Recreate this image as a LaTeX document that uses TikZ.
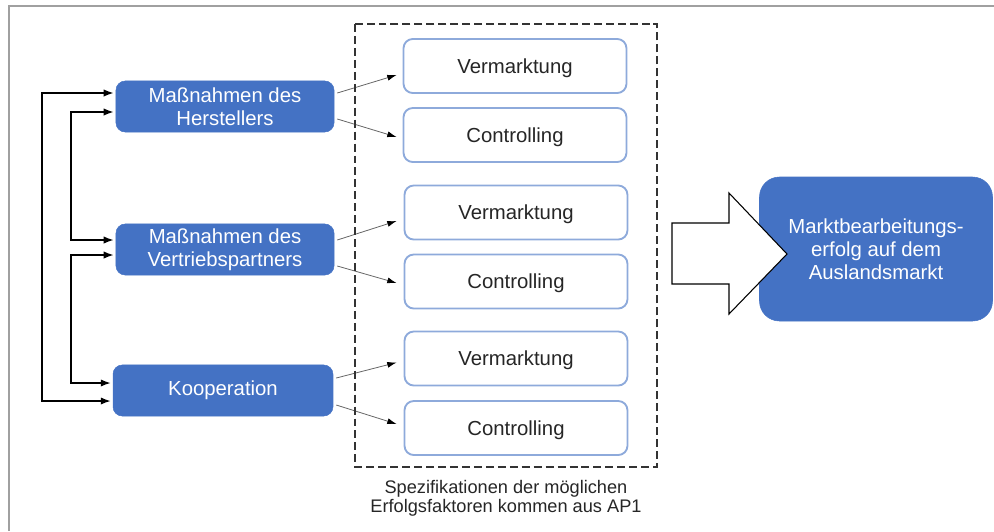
\documentclass[tikz,border=0pt]{standalone}
\usepackage{fontspec}
\setmainfont{Liberation Sans}
\usetikzlibrary{arrows.meta,calc}

\definecolor{boxblue}{RGB}{68,114,196}
\definecolor{lineblue}{RGB}{142,170,219}
\definecolor{framegray}{RGB}{160,160,160}

\tikzset{
  measure/.style={shape=rectangle,rounded corners=7pt,fill=boxblue,draw=boxblue,text=white,
    minimum width=5.77cm,minimum height=1.35cm,align=center,
    font=\fontsize{15.3}{17.5}\selectfont},
  factor/.style={shape=rectangle,rounded corners=7pt,draw=lineblue,line width=1.4pt,fill=white,
    text={black!85},minimum width=5.9cm,minimum height=1.43cm,text depth=0pt,
    font=\fontsize{15.3}{17.5}\selectfont},
  feedback/.style={{Latex[length=7.5pt,width=5.5pt]}-{Latex[length=7.5pt,width=5.5pt]},line width=1.1pt},
  spec/.style={-{Latex[length=7pt,width=4.5pt,black]},draw=black!60,line width=0.6pt}
}

\begin{document}
\begin{tikzpicture}[x=0.02646cm,y=-0.02646cm]
\useasboundingbox (0,0) rectangle (994,531);
\draw[framegray,line width=1.1pt] (9,531) -- (9,6) -- (994,6);

\node[measure](H) at (225,106.5) {Maßnahmen des\\Herstellers};
\node[measure](VP) at (225,249.5) {Maßnahmen des\\Vertriebspartners};
\node[measure,minimum width=5.82cm](K) at (223,390.5) {Kooperation};

\node[factor](V1) at (515,66) {Vermarktung};
\node[factor](C1) at (515,135) {Controlling};
\node[factor](V2) at (516,212.5) {Vermarktung};
\node[factor](C2) at (516,281.5) {Controlling};
\node[factor](V3) at (516,358.5) {Vermarktung};
\node[factor](C3) at (516,428) {Controlling};

\node[shape=rectangle,rounded corners=15pt,fill=boxblue,draw=boxblue,text=white,
  minimum width=6.165cm,minimum height=3.81cm,align=center,
  font=\fontsize{15.3}{17.5}\selectfont](goal) at (876,249)
  {Marktbearbeitungs-\\erfolg auf dem\\Auslandsmarkt};

% Rueckkopplungen
\draw[feedback] ($(H.west)+(-2,-13.5)$) -| (42,250) |- ($(K.west)+(-2,10.5)$);
\draw[feedback] ($(H.west)+(-2,5.5)$) -| (71,180) |- ($(VP.west)+(-2,-9.5)$);
\draw[feedback] ($(VP.west)+(-2,5.5)$) -| (71,320) |- ($(K.west)+(-2,-7.5)$);

\draw[spec] ($(H.east)+(3,-13.5)$) -- ($(V1.west)+(-6,9)$);
\draw[spec] ($(H.east)+(3,12.5)$) -- ($(C1.west)+(-6,2)$);
\draw[spec] ($(VP.east)+(3,-9.5)$) -- ($(V2.west)+(-7,8.5)$);
\draw[spec] ($(VP.east)+(3,16.5)$) -- ($(C2.west)+(-7,1.5)$);
\draw[spec] ($(K.east)+(3,-12.5)$) -- ($(V3.west)+(-7,4)$);
\draw[spec] ($(K.east)+(3,14.5)$) -- ($(C3.west)+(-7,-4)$);

\draw[dashed,dash pattern=on 6pt off 3pt,black!80,line width=0.9pt] (355,24) rectangle (657,467);
\node[align=center,text={black!85},font=\fontsize{13.7}{14.6}\selectfont](note) at (506,498)
  {Spezifikationen der möglichen\\Erfolgsfaktoren kommen aus AP1};

% Blockpfeil
\draw[fill=white,line width=0.8pt] (672,223) -- (729,223) -- (729,193) -- (787,254)
  -- (729,314) -- (729,284) -- (672,284) -- cycle;
\end{tikzpicture}
\end{document}
